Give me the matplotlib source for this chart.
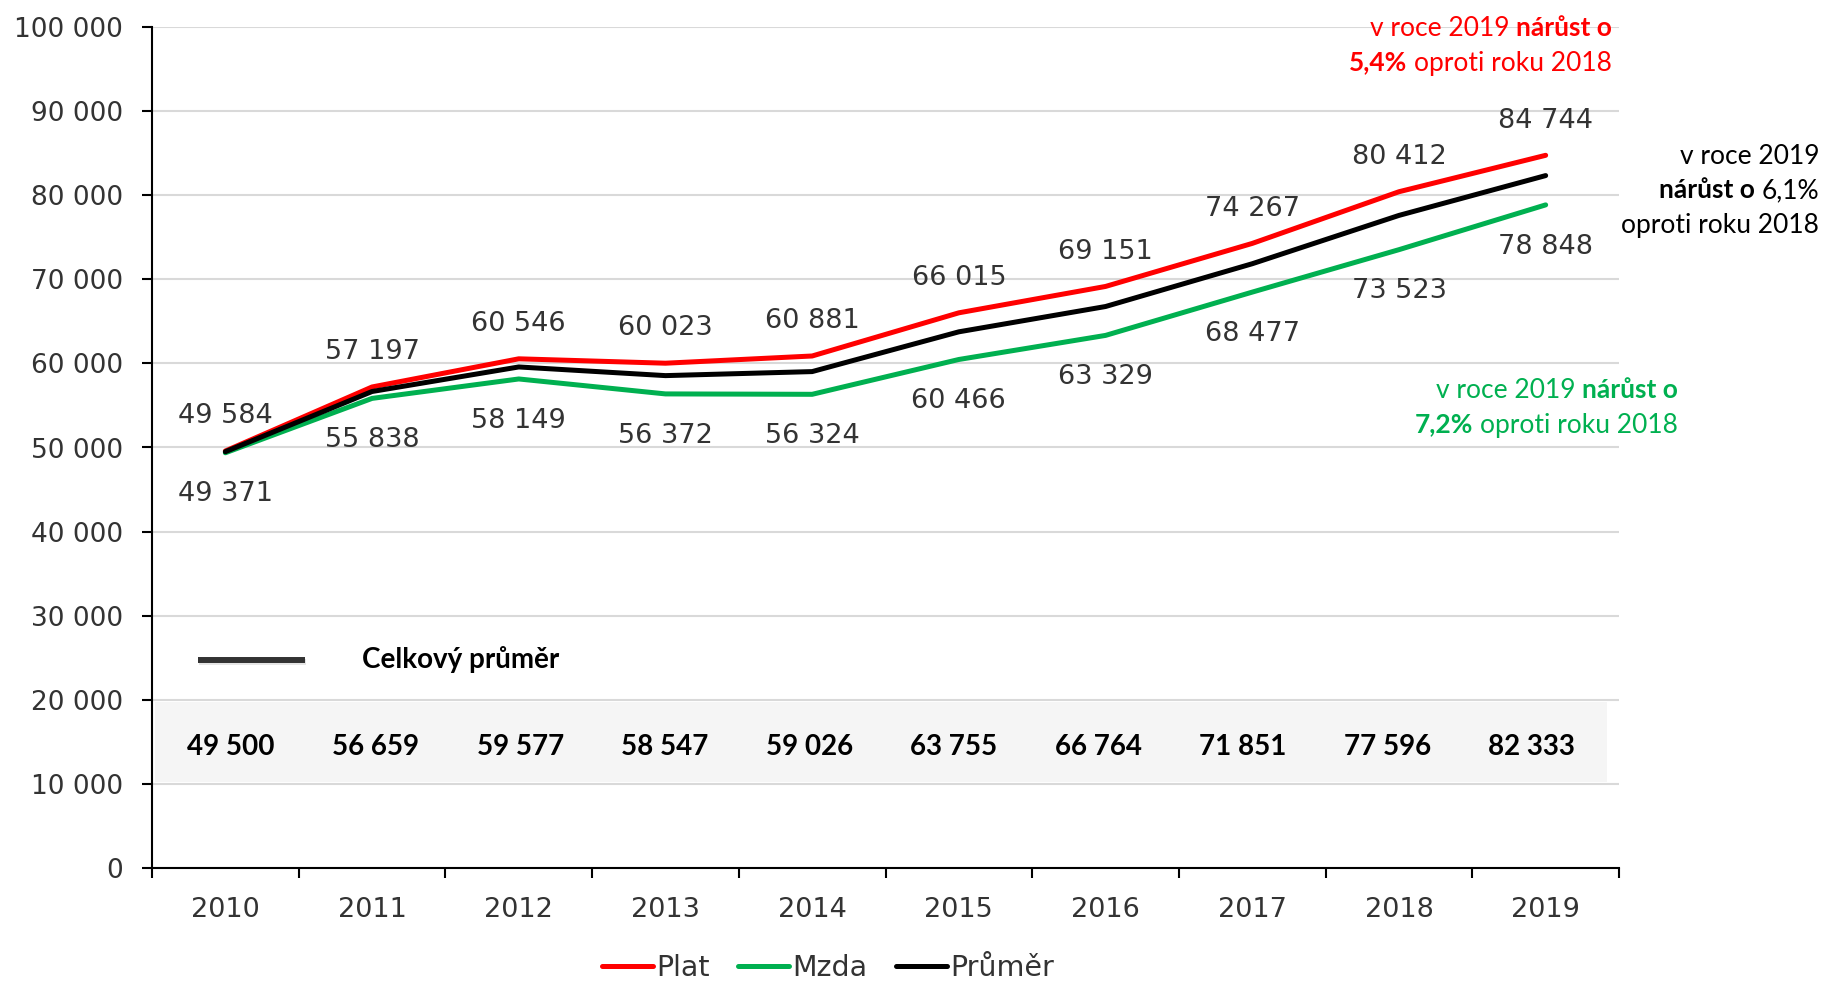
import numpy as np
import matplotlib
matplotlib.use('Agg')
import matplotlib.pyplot as plt
from matplotlib import patheffects as pe
from matplotlib.ticker import FuncFormatter

years = ['2010', '2011', '2012', '2013', '2014', '2015', '2016', '2017', '2018', '2019']
plat = [49584, 57197, 60546, 60023, 60881, 66015, 69151, 74267, 80412, 84744]
mzda = [49371, 55838, 58149, 56372, 56324, 60466, 63329, 68477, 73523, 78848]
prumer = [49500, 56659, 59577, 58547, 59026, 63755, 66764, 71851, 77596, 82333]

W, H = 1826, 982
RED = '#ff0000'
GREEN = '#00b050'
TXT = '#333333'


def fmt(v):
    return f'{v:,.0f}'.replace(',', ' ')


fig = plt.figure(figsize=(W / 100, H / 100), dpi=100)
ax = fig.add_axes([152 / W, 1 - 868 / H, (1619 - 152) / W, (868 - 27) / H])

x = np.arange(len(years))
ax.plot(x, plat, color=RED, lw=3.6, label='Plat', solid_capstyle='round', zorder=3)
ax.plot(x, mzda, color=GREEN, lw=3.6, label='Mzda', solid_capstyle='round', zorder=3)
ax.plot(x, prumer, color='black', lw=3.6, label='Průměr', solid_capstyle='round', zorder=4)

for i, v in enumerate(plat):
    ax.annotate(fmt(v), (i, v), xytext=(0, 25), textcoords='offset points',
                ha='center', va='center', fontsize=19.5, color=TXT)
for i, v in enumerate(mzda):
    ax.annotate(fmt(v), (i, v), xytext=(0, -30), textcoords='offset points',
                ha='center', va='center', fontsize=19.5, color=TXT)

ax.set_xlim(-0.5, 9.5)
ax.set_ylim(0, 100000)
ax.set_yticks(np.arange(0, 100001, 10000))
ax.yaxis.set_major_formatter(FuncFormatter(lambda v, p: fmt(v)))
ax.set_xticks(np.arange(-0.5, 10, 1))
ax.set_xticklabels([])
ax.set_xticks(x, minor=True)
ax.set_xticklabels(years, minor=True)
ax.tick_params(axis='x', which='major', length=7, width=1.5, direction='out')
ax.tick_params(axis='x', which='minor', length=0, pad=21, labelsize=19.5, labelcolor=TXT)
ax.tick_params(axis='y', length=7, width=1.5, pad=14, labelsize=19, labelcolor=TXT)
ax.yaxis.grid(True, color='#d9d9d9', lw=1.5)
ax.set_axisbelow(True)
for s in ['top', 'right']:
    ax.spines[s].set_visible(False)
for s in ['left', 'bottom']:
    ax.spines[s].set_linewidth(1.5)

# table with the overall average
ax.fill_between([-0.48, 9.42], 10200, 19700, color='#f5f5f5', lw=0, zorder=1)
for i, v in enumerate(prumer):
    ax.text(0.04 + i * 0.985, 14350, fmt(v), ha='center', va='center',
            fontsize=20, fontweight='bold', family='Lato', color='black', zorder=2)
ax.plot([-0.186, 0.543], [24750, 24750], color='#333333', lw=4.3, solid_capstyle='butt',
        path_effects=[pe.SimpleLineShadow(offset=(1, -1.5), alpha=0.2, shadow_color='gray'),
                      pe.Normal()])
ax.text(0.93, 24750, 'Celkový průměr', ha='left', va='center', fontsize=20,
        fontweight='bold', family='Lato', color='black')

leg = fig.legend(loc='center', bbox_to_anchor=(828 / W, 1 - 968 / H), ncol=3, frameon=False,
                 handlelength=1.8, handletextpad=0.1, columnspacing=1.0, fontsize=20.5)
for t in leg.get_texts():
    t.set_color(TXT)

renderer = fig.canvas.get_renderer()


def rich_line(xr, yc, parts, color, size=19):
    a1 = fig.text(0, 0, 'a a', family='Lato', fontsize=size)
    a2 = fig.text(0, 0, 'aa', family='Lato', fontsize=size)
    space = a1.get_window_extent(renderer).width - a2.get_window_extent(renderer).width
    a1.remove()
    a2.remove()
    yb = 1 - (yc + 0.36 * size * 100 / 72) / H
    objs = []
    for s, bold in parts:
        objs.append(fig.text(0, yb, s, family='Lato', fontsize=size, color=color,
                             fontweight='bold' if bold else 'normal', va='baseline'))
    widths = [o.get_window_extent(renderer).width for o in objs]
    xp = xr - sum(widths) - space * (len(objs) - 1)
    for o, w in zip(objs, widths):
        o.set_x(xp / W)
        xp += w + space


rich_line(1612, 26, [('v roce 2019', False), ('nárůst o', True)], RED)
rich_line(1612, 61, [('5,4%', True), ('oproti roku 2018', False)], RED)
rich_line(1819, 154, [('v roce 2019', False)], 'black')
rich_line(1819, 189, [('nárůst o', True), ('6,1%', False)], 'black')
rich_line(1819, 224, [('oproti roku 2018', False)], 'black')
rich_line(1678, 388, [('v roce 2019', False), ('nárůst o', True)], GREEN)
rich_line(1678, 423, [('7,2%', True), ('oproti roku 2018', False)], GREEN)

fig.savefig('out.png', dpi=100)
